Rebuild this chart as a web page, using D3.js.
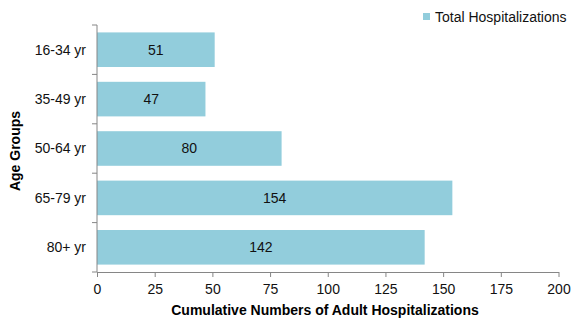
<!DOCTYPE html>
<html><head><meta charset="utf-8">
<script src="https://cdn.jsdelivr.net/npm/d3@7"></script>
<style>body{margin:0;background:#fff}svg{display:block;font-family:"Liberation Sans",Arial,sans-serif}</style>
</head><body><svg id="c" width="579" height="324"></svg>
<script>
const categories = ["16-34 yr","35-49 yr","50-64 yr","65-79 yr","80+ yr"];
const values = [51,47,80,154,142];
const xTicks = [0,25,50,75,100,125,150,175,200];
const seriesName = "Total Hospitalizations";

const svg = d3.select("#c");
const x = d3.scaleLinear().domain([0,200]).range([97,558.5]);
const y = d3.scaleBand().domain(categories).range([25,272]).paddingInner(0.3).paddingOuter(0.15);
const color = "#92CDDC", axisColor = "#868686", textColor = "#111";
const fs = 14;

svg.selectAll("rect.bar").data(values).join("rect").attr("class","bar")
  .attr("x", x(0)).attr("y",(d,i)=>y(categories[i]))
  .attr("width", d=>x(d)-x(0)).attr("height", y.bandwidth()).attr("fill", color);

svg.selectAll("text.val").data(values).join("text").attr("class","val")
  .attr("x", d=>(x(d)+x(0))/2).attr("y",(d,i)=>y(categories[i])+y.bandwidth()/2)
  .attr("dy","0.35em").attr("text-anchor","middle").attr("font-size",fs).attr("fill",textColor).text(d=>d);

// y axis
const ya = svg.append("g");
ya.append("line").attr("x1",97).attr("x2",97).attr("y1",25).attr("y2",272).attr("stroke",axisColor);
const bounds = d3.range(categories.length+1).map(i=>25+i*(247/categories.length));
ya.selectAll("line.t").data(bounds).join("line").attr("class","t")
  .attr("x1",92).attr("x2",97).attr("y1",d=>d).attr("y2",d=>d).attr("stroke",axisColor);
ya.selectAll("text").data(categories).join("text")
  .attr("x",86).attr("y",d=>y(d)+y.bandwidth()/2).attr("dy","0.35em")
  .attr("text-anchor","end").attr("font-size",fs).attr("fill",textColor).text(d=>d);

// x axis
const xa = svg.append("g").attr("transform","translate(0,272)")
  .call(d3.axisBottom(x).tickValues(xTicks).tickSize(5).tickSizeOuter(0));
xa.select(".domain").attr("stroke",axisColor);
xa.selectAll(".tick line").attr("stroke",axisColor);
xa.selectAll(".tick text").attr("font-size",fs).attr("fill",textColor).attr("dy","0.35em").attr("y",17)
  .attr("font-family","Liberation Sans, Arial, sans-serif");

svg.append("text").attr("x",325).attr("y",310).attr("dy","0.35em").attr("text-anchor","middle")
  .attr("font-size",fs).attr("font-weight","bold").attr("fill","#000").text("Cumulative Numbers of Adult Hospitalizations");
svg.append("text").attr("transform","translate(15,151) rotate(-90)").attr("dy","0.35em").attr("text-anchor","middle")
  .attr("font-size",fs).attr("font-weight","bold").attr("fill","#000").text("Age Groups");

// legend
svg.append("rect").attr("x",423).attr("y",13).attr("width",7).attr("height",7).attr("fill",color);
svg.append("text").attr("x",435).attr("y",17).attr("dy","0.35em").attr("font-size",fs).attr("fill",textColor).text(seriesName);
</script></body></html>
